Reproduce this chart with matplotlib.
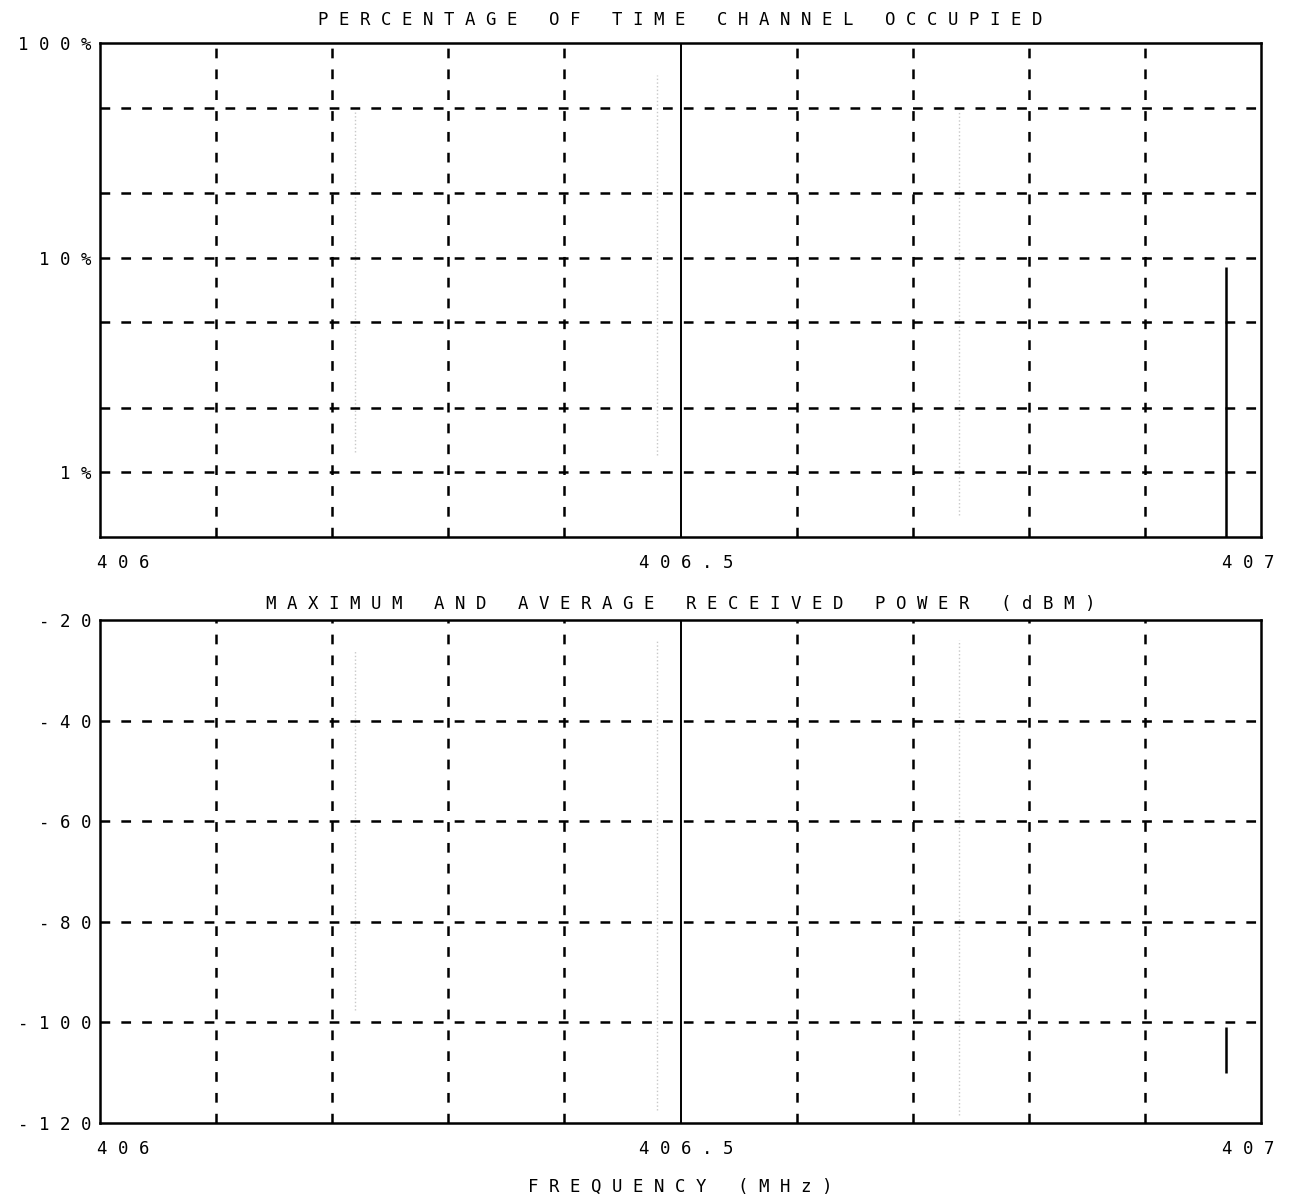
import numpy as np
import matplotlib
matplotlib.use('Agg')
import matplotlib.pyplot as plt

# Data
x_ticks = [406, 406.5, 407]
x_tick_labels = ['406', '406.5', '407']
grid_x = [406.1, 406.2, 406.3, 406.4, 406.6, 406.7, 406.8, 406.9]

occ_ticks = [1, 10, 100]
occ_tick_labels = ['1%', '10%', '100%']
occ_grid = [1, 2, 5, 10, 20, 50]

pwr_ticks = [-120, -100, -80, -60, -40, -20]
pwr_grid = [-100, -80, -60, -40]

# occupied channel
occ_freq = [406.97]
occ_pct = [9.0]

# max / average received power for that channel (dBm)
pwr_freq = [406.97]
pwr_max = [-101]
pwr_avg = [-110]

# faint scan traces
trace_freq = [406.22, 406.48, 406.74]
trace_occ_lo = [1.25, 1.2, 0.63]
trace_occ_hi = [49, 71, 49]
trace_pwr_lo = [-97.5, -117.4, -118.4]
trace_pwr_hi = [-26, -24, -24]


def spaced(s):
    # plotter lettering: wide character pitch
    return ' '.join(s)


plt.rcParams['font.family'] = 'DejaVu Sans Mono'
plt.rcParams['lines.scale_dashes'] = False
fs = 12.5
dash = (0, (7, 8))

fig = plt.figure(figsize=(12.94, 12.01), dpi=100)
ax1 = fig.add_axes([0.0773, 0.5529, 0.8972, 0.4113])
ax2 = fig.add_axes([0.0773, 0.0649, 0.8972, 0.4189])

# x label offsets (points) so the labels sit like the plotter put them
xlab_ha = ['left', 'center', 'right']
xlab_dx = [-2, 4, 10]


def style_axes(ax):
    ax.set_xlim(406, 407)
    for s in ax.spines.values():
        s.set_linewidth(1.8)
    for gx in grid_x:
        ax.axvline(gx, color='black', lw=1.8, linestyle=dash, zorder=1)
    ax.axvline(406.5, color='black', lw=1.4, zorder=1)
    ax.set_xticks(x_ticks)
    ax.set_xticklabels([])
    ax.tick_params(axis='both', length=0, pad=6)
    for t, lab, ha, dx in zip(x_ticks, x_tick_labels, xlab_ha, xlab_dx):
        ax.annotate(spaced(lab), xy=(t, 0), xycoords=('data', 'axes fraction'),
                    xytext=(dx, -19), textcoords='offset points',
                    ha=ha, va='center', fontsize=fs)


# Top panel: percentage of time
ax1.set_yscale('log')
ax1.set_ylim(0.5, 100)
style_axes(ax1)
for gy in occ_grid:
    ax1.axhline(gy, color='black', lw=1.8, linestyle=dash, zorder=1)
for f, lo, hi in zip(trace_freq, trace_occ_lo, trace_occ_hi):
    ax1.vlines(f, lo, hi, color='#c8c8c8', lw=1, linestyle=':', zorder=0)
ax1.vlines(occ_freq, 0.5, occ_pct, color='black', lw=1.8, zorder=3)
ax1.set_yticks(occ_ticks)
ax1.set_yticklabels([spaced(t) for t in occ_tick_labels], fontsize=fs)
ax1.yaxis.set_minor_locator(matplotlib.ticker.NullLocator())
ax1.set_title(spaced('PERCENTAGE OF TIME CHANNEL OCCUPIED'), fontsize=fs, pad=13)

# Bottom panel: received power
ax2.set_ylim(-120, -20)
style_axes(ax2)
for gy in pwr_grid:
    ax2.axhline(gy, color='black', lw=1.8, linestyle=dash, zorder=1)
for f, lo, hi in zip(trace_freq, trace_pwr_lo, trace_pwr_hi):
    ax2.vlines(f, lo, hi, color='#c8c8c8', lw=1, linestyle=':', zorder=0)
ax2.vlines(pwr_freq, pwr_avg, pwr_max, color='black', lw=1.8, zorder=3)
ax2.set_yticks(pwr_ticks)
ax2.set_yticklabels([spaced(str(t)) for t in pwr_ticks], fontsize=fs)
ax2.set_title(spaced('MAXIMUM AND AVERAGE RECEIVED POWER (dBM)'), fontsize=fs, pad=8)
ax2.annotate(spaced('FREQUENCY (MHz)'), xy=(0.5, 0), xycoords='axes fraction',
             xytext=(0, -46), textcoords='offset points',
             ha='center', va='center', fontsize=fs)

fig.savefig('out.png', dpi=100)
